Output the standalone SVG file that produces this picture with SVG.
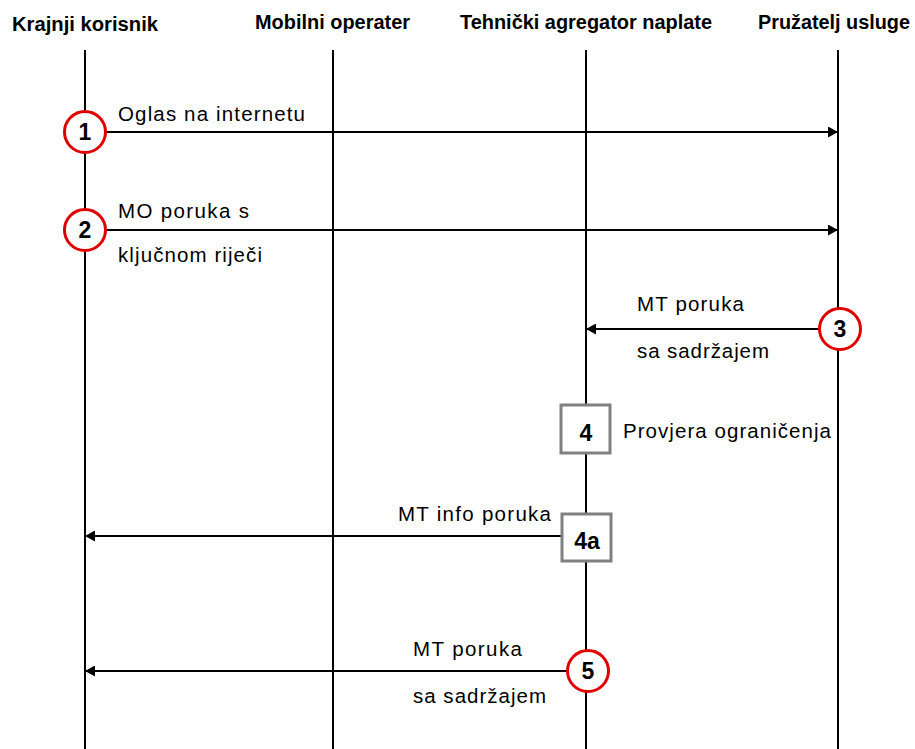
<svg xmlns="http://www.w3.org/2000/svg" width="915" height="749" viewBox="0 0 915 749">
<style>
.hdr{font-family:"Liberation Sans",Arial,sans-serif;font-weight:bold;font-size:20px;fill:#000}
.lbl{font-family:"Liberation Sans",Arial,sans-serif;font-size:20.5px;fill:#000}
.num{font-family:"Liberation Sans",Arial,sans-serif;font-weight:bold;font-size:23px;fill:#000;text-anchor:middle}
.life{stroke:#000;stroke-width:2;fill:none}
.msg{stroke:#000;stroke-width:2;fill:none}
.circ{fill:#fff;stroke:#e00000;stroke-width:3}
.box{fill:#fff;stroke:#808080;stroke-width:3}
</style>
<defs>
<marker id="ah" markerWidth="11" markerHeight="11" refX="10" refY="5.5" orient="auto" markerUnits="userSpaceOnUse">
<path d="M0,0 L10,5.5 L0,11 Z" fill="#000"/>
</marker>
</defs>
<rect width="915" height="749" fill="#fff"/>
<g id="lifelines">
<g id="krajnji"><text class="hdr" x="12" y="31" textLength="146" lengthAdjust="spacingAndGlyphs">Krajnji korisnik</text><line class="life" x1="85" y1="50" x2="85" y2="749"/></g>
<g id="mobilni"><text class="hdr" x="255" y="29" textLength="155" lengthAdjust="spacingAndGlyphs">Mobilni operater</text><line class="life" x1="333" y1="50" x2="333" y2="749"/></g>
<g id="tehnicki"><text class="hdr" x="460" y="29" textLength="252" lengthAdjust="spacingAndGlyphs">Tehnički agregator naplate</text><line class="life" x1="586" y1="50" x2="586" y2="749"/></g>
<g id="pruzatelj"><text class="hdr" x="758" y="29" textLength="152" lengthAdjust="spacingAndGlyphs">Pružatelj usluge</text><line class="life" x1="838" y1="50" x2="838" y2="749"/></g>
</g>
<g id="connectors">
<line class="msg" x1="85" y1="132" x2="838" y2="132" marker-end="url(#ah)"/>
<line class="msg" x1="85" y1="230" x2="838" y2="230" marker-end="url(#ah)"/>
<line class="msg" x1="838" y1="329" x2="586" y2="329" marker-end="url(#ah)"/>
<line class="msg" x1="562" y1="536" x2="85" y2="536" marker-end="url(#ah)"/>
<line class="msg" x1="588" y1="671" x2="85" y2="671" marker-end="url(#ah)"/>
</g>
<g id="labels">
<text class="lbl" x="118" y="121" textLength="187" lengthAdjust="spacing">Oglas na internetu</text>
<text class="lbl" x="118" y="218" textLength="131" lengthAdjust="spacing">MO poruka s</text>
<text class="lbl" x="118" y="262" textLength="144" lengthAdjust="spacing">ključnom riječi</text>
<text class="lbl" x="637" y="311" textLength="107" lengthAdjust="spacing">MT poruka</text>
<text class="lbl" x="637" y="358" textLength="132" lengthAdjust="spacing">sa sadržajem</text>
<text class="lbl" x="623" y="438" textLength="208" lengthAdjust="spacing">Provjera ograničenja</text>
<text class="lbl" x="398" y="521" textLength="153" lengthAdjust="spacing">MT info poruka</text>
<text class="lbl" x="413" y="656" textLength="109" lengthAdjust="spacing">MT poruka</text>
<text class="lbl" x="413" y="703" textLength="133" lengthAdjust="spacing">sa sadržajem</text>
</g>
<g id="step1"><circle class="circ" cx="85" cy="132" r="20.5"/><text class="num" x="85" y="140">1</text></g>
<g id="step2"><circle class="circ" cx="85" cy="230" r="20.5"/><text class="num" x="85" y="238">2</text></g>
<g id="step3"><circle class="circ" cx="840" cy="329" r="20.5"/><text class="num" x="840" y="337">3</text></g>
<g id="step4"><rect class="box" x="561" y="405" width="49" height="48"/><text class="num" x="586" y="441">4</text></g>
<g id="step4a"><rect class="box" x="562" y="514" width="49" height="47"/><text class="num" x="587" y="549">4a</text></g>
<g id="step5"><circle class="circ" cx="588" cy="671" r="20.5"/><text class="num" x="588" y="679">5</text></g>
</svg>
